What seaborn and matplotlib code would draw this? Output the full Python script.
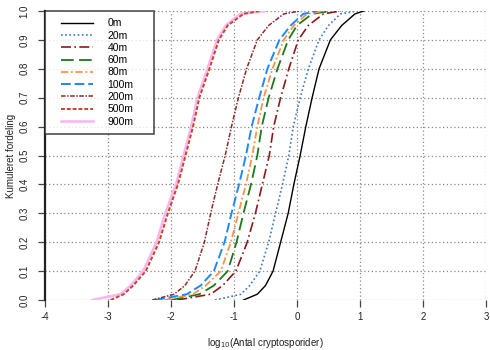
import numpy as np
import pandas as pd
import matplotlib
matplotlib.use("Agg")
import matplotlib.pyplot as plt
from matplotlib.legend_handler import HandlerLine2D
import seaborn as sns

# cumulative levels (y) and the x positions per series
levels = [0.0, 0.02, 0.05, 0.1, 0.2, 0.3, 0.4, 0.5, 0.6, 0.7, 0.8, 0.9, 0.95, 0.99, 1.0]

x_0m   = [-0.85, -0.63, -0.50, -0.38, -0.26, -0.14, -0.05, 0.05, 0.14, 0.24, 0.35, 0.53, 0.71, 0.92, 1.06]
x_20m  = [-1.30, -0.89, -0.75, -0.59, -0.45, -0.34, -0.23, -0.13, -0.06, 0.05, 0.18, 0.35, 0.50, 0.69, 0.95]
x_40m  = [-1.90, -1.37, -1.18, -0.97, -0.79, -0.66, -0.55, -0.44, -0.37, -0.26, -0.13, 0.02, 0.18, 0.42, 0.69]
x_60m  = [-2.00, -1.55, -1.32, -1.10, -0.96, -0.85, -0.73, -0.63, -0.56, -0.45, -0.31, -0.14, 0.00, 0.24, 0.53]
x_80m  = [-2.10, -1.65, -1.45, -1.21, -1.05, -0.93, -0.81, -0.71, -0.63, -0.53, -0.39, -0.21, -0.05, 0.16, 0.43]
x_100m = [-2.25, -1.75, -1.53, -1.32, -1.15, -1.04, -0.92, -0.81, -0.72, -0.60, -0.47, -0.28, -0.10, 0.10, 0.32]
x_200m = [-2.30, -1.95, -1.78, -1.62, -1.47, -1.37, -1.26, -1.14, -1.04, -0.93, -0.80, -0.63, -0.45, -0.21, 0.05]
x_500m = [-2.96, -2.75, -2.60, -2.40, -2.19, -2.05, -1.89, -1.77, -1.65, -1.55, -1.39, -1.24, -1.10, -0.85, -0.60]
x_900m = [-3.25, -2.80, -2.64, -2.44, -2.23, -2.09, -1.92, -1.80, -1.68, -1.58, -1.42, -1.27, -1.13, -0.90, -0.50]

labels = ["0m", "20m", "40m", "60m", "80m", "100m", "200m", "500m", "900m"]
series = [x_0m, x_20m, x_40m, x_60m, x_80m, x_100m, x_200m, x_500m, x_900m]

colors = ["#000000", "#3a78c8", "#8b1a1a", "#1a7a1a", "#ff9248",
          "#1e88ff", "#8b2a2a", "#d0402a", "#f7b8ee"]
styles = ["-", (0, (1, 1.5)), (0, (6, 2, 1, 2)), (0, (7, 3)), (0, (4, 1.5, 1, 1.5)),
          (0, (5, 2)), (0, (3, 1, 1, 1)), (0, (2, 1)), "-"]
widths = [1.0, 1.2, 1.2, 1.3, 1.3, 1.4, 1.1, 1.4, 1.9]
zorders = [3, 3, 3, 3, 3, 3, 3, 3, 2]


class InsetHandler(HandlerLine2D):
    def get_xdata(self, legend, xdescent, ydescent, width, height, fontsize):
        x0 = -xdescent + width * 0.22
        x1 = -xdescent + width
        return np.array([x0, x1]), np.array([x0, x1])


fig = plt.figure(figsize=(4.9, 3.5), dpi=100)
ax = fig.add_axes([45 / 490, 1 - 300 / 350, (486 - 45) / 490, (300 - 11) / 350])

font = "Liberation Sans"

for lab, xs, c, ls, lw, z in zip(labels, series, colors, styles, widths, zorders):
    df = pd.DataFrame({"x": xs, "y": levels})
    sns.lineplot(data=df, x="x", y="y", ax=ax, color=c, linestyle=ls,
                 linewidth=lw, label=lab, sort=False, zorder=z)

ax.set_xlim(-4, 3)
ax.set_ylim(0, 1)
ax.set_xticks(range(-4, 4))
ax.set_yticks(np.arange(0, 1.01, 0.1))
ax.set_yticklabels([f"{v:.1f}" for v in np.arange(0, 1.01, 0.1)],
                   rotation=90, va="center", family=font, fontsize=7)
ax.set_xticklabels([str(v) for v in range(-4, 4)], family=font, fontsize=7)

ax.grid(True, linestyle=(0, (1, 2)), color="#888888", linewidth=0.9)
ax.set_axisbelow(True)
for s in ["top", "right", "bottom"]:
    ax.spines[s].set_visible(False)
ax.spines["left"].set_linewidth(1.6)
ax.spines["left"].set_color("#222222")
ax.tick_params(axis="both", direction="out", length=5, width=0.9,
               color="#444444", labelcolor="#222222")
ax.tick_params(axis="y", pad=6)
ax.tick_params(axis="x", pad=4)

ax.set_xlabel("log$_{10}$(Antal cryptosporider)", family=font, fontsize=7,
              color="#222222", labelpad=10)
ax.set_ylabel("Kumuleret fordeling", family=font, fontsize=7,
              color="#222222", labelpad=3)

handles, labs = ax.get_legend_handles_labels()
leg = ax.legend(handles, labs, loc="upper left",
                bbox_to_anchor=(0, 0, 109 / 441, 1), mode="expand",
                borderaxespad=0,
                frameon=True, fancybox=False, edgecolor="#222222",
                prop={"family": font, "size": 7.5}, handlelength=3.9,
                handletextpad=1.4, labelspacing=0.22, borderpad=0.7,
                handler_map={h: InsetHandler() for h in handles})
leg.get_frame().set_linewidth(1.2)
leg.set_zorder(5)

fig.savefig("out.png", dpi=100)
